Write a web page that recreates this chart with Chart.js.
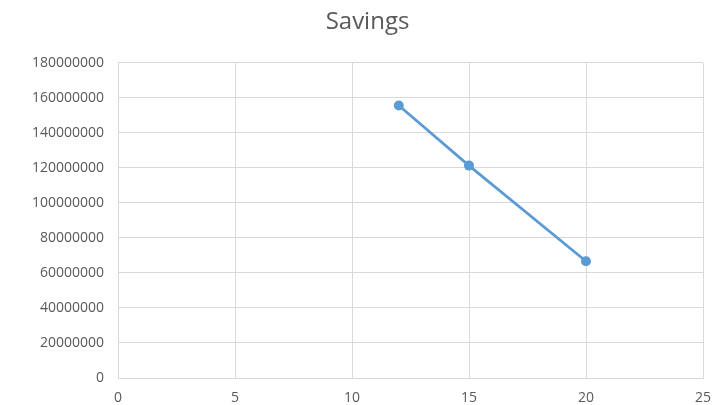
<!DOCTYPE html>
<html>
<head>
<meta charset="utf-8">
<script src="https://cdn.jsdelivr.net/npm/chart.js@4"></script>
<style>
  html, body { margin: 0; padding: 0; background: #ffffff; }
  #wrap { width: 721px; height: 405px; }
</style>
</head>
<body>
<div id="wrap"><canvas id="c" width="721" height="405"></canvas></div>
<script>
// Savings series
const years = [12, 15, 20];
const savings = [155600000, 121300000, 66700000];

// Axis ranges and steps
const xTicks = { min: 0, max: 25, step: 5 };
const yTicks = { min: 0, max: 180000000, step: 20000000 };

const points = years.map((x, i) => ({ x: x, y: savings[i] }));

const textColor = '#595959';
const gridColor = '#d9d9d9';
const fontFamily = '"Open Sans", "Liberation Sans", sans-serif';

new Chart(document.getElementById('c'), {
  type: 'scatter',
  data: {
    datasets: [{
      label: 'Savings',
      data: points,
      showLine: true,
      borderColor: '#5b9bd5',
      backgroundColor: '#5b9bd5',
      borderWidth: 2.75,
      pointRadius: 5,
      pointHoverRadius: 5,
      pointBorderWidth: 0
    }]
  },
  options: {
    responsive: false,
    animation: false,
    events: [],
    layout: { padding: { left: 16, right: 2, top: 0, bottom: 0 } },
    plugins: {
      legend: { display: false },
      tooltip: { enabled: false },
      title: {
        display: true,
        text: 'Savings',
        color: textColor,
        font: { family: fontFamily, size: 24, weight: 'normal' },
        padding: { top: 8, bottom: 26 }
      }
    },
    scales: {
      x: {
        type: 'linear',
        min: xTicks.min,
        max: xTicks.max,
        border: { color: gridColor },
        grid: { color: gridColor, drawTicks: false },
        ticks: {
          stepSize: xTicks.step,
          color: textColor,
          padding: 12,
          font: { family: fontFamily, size: 14 }
        },
        afterFit: (scale) => { scale.paddingRight = 18; scale.height = 27; }
      },
      y: {
        type: 'linear',
        min: yTicks.min,
        max: yTicks.max,
        border: { color: gridColor },
        grid: { color: gridColor, drawTicks: false },
        ticks: {
          stepSize: yTicks.step,
          color: textColor,
          padding: 14,
          font: { family: fontFamily, size: 14 },
          callback: (v) => String(v)
        },
        afterFit: (scale) => { scale.width = 102; }
      }
    }
  }
});
</script>
</body>
</html>
